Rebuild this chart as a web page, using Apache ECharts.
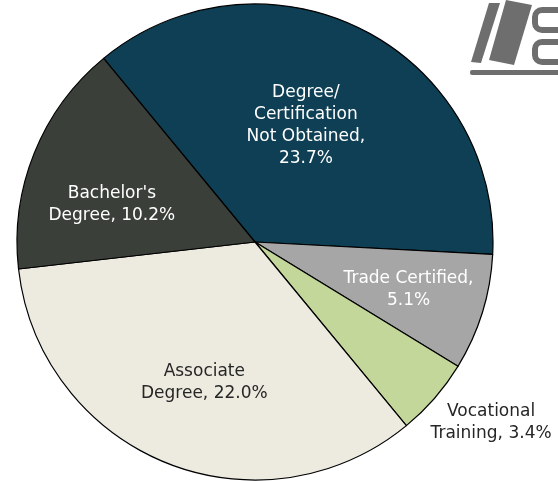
<!DOCTYPE html>
<html>
<head>
<meta charset="utf-8">
<script src="https://cdn.jsdelivr.net/npm/echarts@6/dist/echarts.min.js"></script>
<style>
  html, body { margin: 0; padding: 0; background: #fff; }
  #chart { width: 558px; height: 481px; }
</style>
</head>
<body>
<div id="chart"></div>
<script>
// data, clockwise from the upper-left boundary
var categories = ['Degree/Certification Not Obtained', 'Trade Certified', 'Vocational Training', 'Associate Degree', "Bachelor's Degree"];
var values = [23.7, 5.1, 3.4, 22.0, 10.2];
var labelText = ['Degree/\nCertification\nNot Obtained,\n', 'Trade Certified,\n', 'Vocational\nTraining, ', 'Associate\nDegree, ', "Bachelor's\nDegree, "];

var colors = ['#0e3f54', '#a6a6a6', '#c4d79b', '#edebe0', '#3a3f3a'];
var textColors = ['#fff', '#fff', '#262626', '#262626', '#fff'];
var offsets = [[-4, -7], [37, 11], [144, 101], [-5, 27], [-30, 8]];

var myChart = echarts.init(document.getElementById('chart'));

var data = categories.map(function (name, i) {
	return {
		name: name,
		value: values[i],
		itemStyle: { color: colors[i] },
		label: { color: textColors[i], offset: offsets[i] }
	};
});

var option = {
	animation: false,
	series: [
		{
			type: 'pie',
			center: [255, 242],
			radius: 238,
			startAngle: 129.5,
			clockwise: true,
			itemStyle: { borderColor: '#000', borderWidth: 1.2 },
			emphasis: { disabled: true },
			label: {
				position: 'inside',
				fontFamily: 'DejaVu Sans',
				fontSize: 17,
				lineHeight: 22,
				align: 'center',
				formatter: function (p) {
					return labelText[p.dataIndex] + p.value.toFixed(1) + '%';
				}
			},
			labelLine: { show: false },
			data: data
		}
	],
	// logo in the corner
	graphic: [
		{ type: 'polygon', shape: { points: [[489, 3], [500, 3], [481, 63], [471, 62]] }, style: { fill: '#6e6e6e' } },
		{ type: 'polygon', shape: { points: [[506, 0], [532, 5], [514, 65], [489, 60]] }, style: { fill: '#6e6e6e' } },
		{ type: 'rect', shape: { x: 535, y: 10, width: 40, height: 20, r: 7 }, style: { fill: '#fff', stroke: '#6e6e6e', lineWidth: 6 } },
		{ type: 'rect', shape: { x: 535, y: 42, width: 40, height: 20, r: 7 }, style: { fill: '#fff', stroke: '#6e6e6e', lineWidth: 6 } },
		{ type: 'rect', shape: { x: 470, y: 70, width: 90, height: 5, r: 2 }, style: { fill: '#6e6e6e' } }
	]
};

myChart.setOption(option);
</script>
</body>
</html>
